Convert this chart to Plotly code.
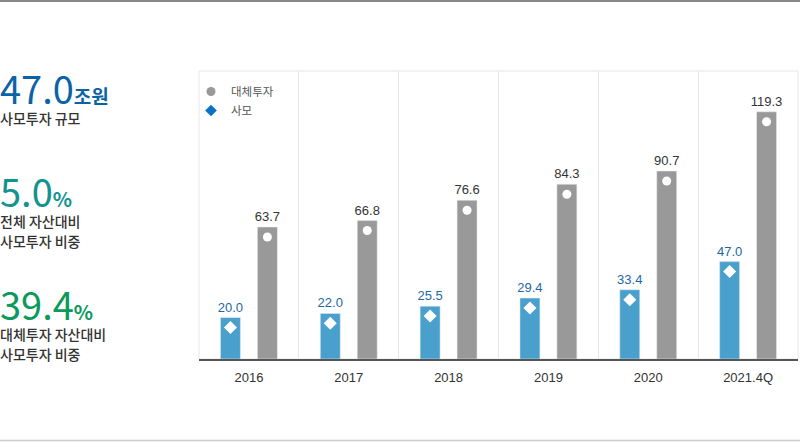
import plotly.graph_objects as go

# ---- data ----
categories = ["2016", "2017", "2018", "2019", "2020", "2021.4Q"]
pe_values = [20.0, 22.0, 25.5, 29.4, 33.4, 47.0]          # 사모
alt_values = [63.7, 66.8, 76.6, 84.3, 90.7, 119.3]        # 대체투자
series_names = ["사모", "대체투자"]

kpi_values = ["47.0", "5.0", "39.4"]
kpi_units = ["조원", "%", "%"]
kpi_labels = ["사모투자 규모", "전체 자산대비<br>사모투자 비중", "대체투자 자산대비<br>사모투자 비중"]

# ---- style ----
BLUE_BAR = "#4aa0cc"
GRAY_BAR = "#999999"
BLUE_TXT = "#1d68a3"
LEG_BLUE = "#0a72c2"
KPI_COLORS = ["#0b63a6", "#12938f", "#0b9a5c"]
Y_MAX = 139
MARKER_INSET = 4.8
KFONT = "Noto Sans CJK KR"
NFONT = "Liberation Sans, Arial, sans-serif"

W, H = 800, 442
L, R, T, B = 199, 2, 71, 83
PW, PH = W - L - R, H - T - B


def px_x(p):
    return (p - L) / PW


def px_y(p):
    return (H - B - p) / PH


fig = go.Figure()

fig.add_trace(go.Bar(
    x=categories, y=pe_values, name=series_names[0], marker_color=BLUE_BAR,
    offsetgroup="pe", texttemplate="%{y:.1f}", textposition="outside",
    constraintext="none",
    textfont=dict(color=BLUE_TXT, size=13, family=NFONT), cliponaxis=False,
    showlegend=False, hoverinfo="skip"))
fig.add_trace(go.Bar(
    x=categories, y=alt_values, name=series_names[1], marker_color=GRAY_BAR,
    offsetgroup="alt", texttemplate="%{y:.1f}", textposition="outside",
    constraintext="none",
    textfont=dict(color="#333333", size=13, family=NFONT), cliponaxis=False,
    showlegend=False, hoverinfo="skip"))

# white markers inside the bars
fig.add_trace(go.Scatter(
    x=categories, y=[v - MARKER_INSET for v in pe_values], mode="markers",
    offsetgroup="pe", marker=dict(symbol="diamond", color="white", size=10),
    showlegend=False, hoverinfo="skip"))
fig.add_trace(go.Scatter(
    x=categories, y=[v - MARKER_INSET for v in alt_values], mode="markers",
    offsetgroup="alt", marker=dict(symbol="circle", color="white", size=9),
    showlegend=False, hoverinfo="skip"))

# legend entries
fig.add_trace(go.Scatter(x=[None], y=[None], mode="markers", name=series_names[1],
                         marker=dict(symbol="circle", color="#999999", size=9)))
fig.add_trace(go.Scatter(x=[None], y=[None], mode="markers", name=series_names[0],
                         marker=dict(symbol="diamond", color=LEG_BLUE, size=9)))

# left KPI panel: number + caption in one text block
kpi_top = [58, 161, 274]
for i in range(3):
    caption = "<br>".join(
        f"<span style='font-size:14px;color:#333333;font-weight:500'>{line}</span>"
        for line in kpi_labels[i].split("<br>"))
    fig.add_annotation(
        xref="paper", yref="paper", x=px_x(-2), y=px_y(kpi_top[i]),
        xanchor="left", yanchor="top", showarrow=False, align="left",
        text=(f"<span style='font-size:38px'>{kpi_values[i]}</span>"
              f"<span style='font-size:{19 if i == 0 else 20}px;font-weight:bold'>"
              f"{kpi_units[i]}</span><br>{caption}"),
        font=dict(size=15.4, color=KPI_COLORS[i], family=KFONT))

# plot frame + page lines
fig.add_shape(type="rect", xref="paper", yref="paper", x0=0, x1=1, y0=0, y1=1,
              line=dict(color="#e6e6e6", width=1), layer="below")
fig.add_shape(type="line", xref="paper", yref="paper", x0=px_x(0), x1=px_x(W),
              y0=px_y(1), y1=px_y(1), line=dict(color="#888888", width=2))
fig.add_shape(type="line", xref="paper", yref="paper", x0=px_x(0), x1=px_x(W),
              y0=px_y(440.5), y1=px_y(440.5), line=dict(color="#cccccc", width=1.5))

fig.update_layout(
    width=W, height=H, margin=dict(l=L, r=R, t=T, b=B),
    paper_bgcolor="white", plot_bgcolor="white",
    barmode="group", bargap=0.26, bargroupgap=0.46,
    scattermode="group", scattergap=0.26,
    font=dict(family=NFONT, color="#333333"),
    legend=dict(x=px_x(191), y=px_y(77), xanchor="left", yanchor="top",
                bgcolor="rgba(0,0,0,0)", font=dict(size=11.5, color="#555555", family=KFONT),
                itemwidth=30, tracegroupgap=0),
    xaxis=dict(type="category", showgrid=True, gridcolor="#e6e6e6", tickson="boundaries",
               showline=True, linecolor="#555555", linewidth=2,
               ticks="", ticklabelstandoff=5,
               tickfont=dict(size=13, color="#333333", family=NFONT), fixedrange=True),
    yaxis=dict(range=[0, Y_MAX], showgrid=False, zeroline=False, showticklabels=False,
               showline=False, fixedrange=True),
)

fig.write_html("out.html", config={"displayModeBar": False},
               post_script="document.body.style.margin='0';")
